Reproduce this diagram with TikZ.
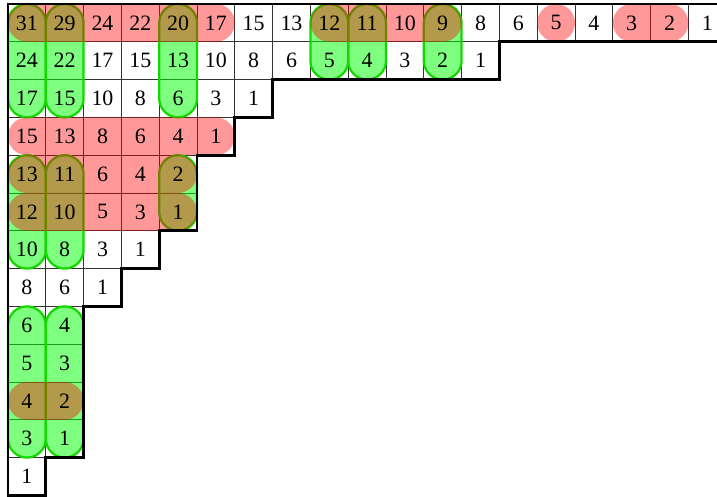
\documentclass[tikz,border=0pt]{standalone}
\usepackage{fontspec}
\setmainfont{Liberation Serif}
\begin{document}
\begin{tikzpicture}[x=1cm,y=1cm,
  cellbox/.style={draw=black!80, line width=0.6pt, minimum size=1cm, inner sep=0pt, outer sep=0pt},
  greenhook/.style={fill={rgb,255:red,0;green,255;blue,0}, fill opacity=0.5,
     draw={rgb,255:red,20;green,215;blue,0}, draw opacity=1, line width=1.7pt, rounded corners=0.5cm},
  redhook/.style={fill=red, fill opacity=0.4, draw=none, rounded corners=0.5cm},
  num/.style={font=\fontsize{16.5}{19}\selectfont, text=black, inner sep=0pt},
  border/.style={draw=black, line width=2.2pt, line join=miter}
]
\clip (-0.2116,0.1058) rectangle (18.757,-13.042);
% cells
\foreach \r/\vals in {
  1/{31,29,24,22,20,17,15,13,12,11,10,9,8,6,5,4,3,2,1},
  2/{24,22,17,15,13,10,8,6,5,4,3,2,1},
  3/{17,15,10,8,6,3,1},
  4/{15,13,8,6,4,1},
  5/{13,11,6,4,2},
  6/{12,10,5,3,1},
  7/{10,8,3,1},
  8/{8,6,1},
  9/{6,4},
  10/{5,3},
  11/{4,2},
  12/{3,1},
  13/{1}}{
  \foreach \v [count=\c] in \vals {
    \node[cellbox] (c\r-\c) at ({\c-0.5},{0.5-\r}) {};
  }
}
% green vertical strips
\foreach \c/\ra/\rb in {1/1/3, 2/1/3, 5/1/3, 9/1/2, 10/1/2, 12/1/2, 1/5/7, 2/5/7, 5/5/6, 1/9/12, 2/9/12}{
  \draw[greenhook] (c\ra-\c.north west) rectangle (c\rb-\c.south east);
}
% red horizontal strips
\foreach \r/\ca/\cb in {1/1/6, 1/9/12, 1/15/15, 1/17/18, 4/1/6, 5/1/5, 6/1/5, 11/1/2}{
  \fill[redhook] (c\r-\ca.north west) rectangle (c\r-\cb.south east);
}
% numbers
\foreach \r/\vals in {
  1/{31,29,24,22,20,17,15,13,12,11,10,9,8,6,5,4,3,2,1},
  2/{24,22,17,15,13,10,8,6,5,4,3,2,1},
  3/{17,15,10,8,6,3,1},
  4/{15,13,8,6,4,1},
  5/{13,11,6,4,2},
  6/{12,10,5,3,1},
  7/{10,8,3,1},
  8/{8,6,1},
  9/{6,4},
  10/{5,3},
  11/{4,2},
  12/{3,1},
  13/{1}}{
  \foreach \v [count=\c] in \vals {
    \node[num] (t\r-\c) at (c\r-\c.center) {\v};
  }
}
% outer boundary
\draw[border] (0,0) -- (19,0) -- (19,-1) -- (13,-1) -- (13,-2) -- (7,-2) -- (7,-3)
  -- (6,-3) -- (6,-4) -- (5,-4) -- (5,-6) -- (4,-6) -- (4,-7) -- (3,-7) -- (3,-8)
  -- (2,-8) -- (2,-12) -- (1,-12) -- (1,-13) -- (0,-13) -- cycle;
\end{tikzpicture}
\end{document}
